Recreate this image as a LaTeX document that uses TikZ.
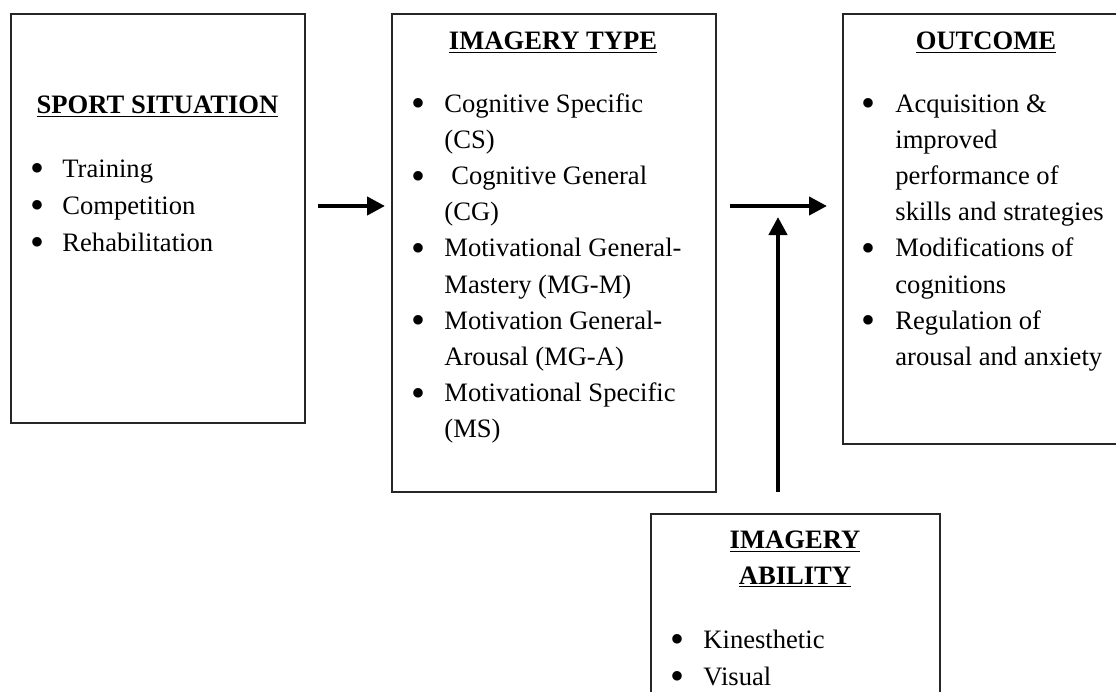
\documentclass[tikz,border=0pt]{standalone}
\usepackage{fontspec}
\setmainfont{Liberation Serif}
\usetikzlibrary{arrows.meta}
\tikzset{
  box/.style={draw=black!85, line width=0.8pt, inner sep=0pt, anchor=north west},
  txt/.style={anchor=base west, inner sep=0pt, font=\fontsize{13.3}{16}\selectfont},
  bul/.style={anchor=center, inner sep=0pt, yshift=2.1pt, font=\fontsize{13.3}{16}\selectfont},
  head/.style={anchor=base, inner sep=0pt, font=\fontsize{13.3}{16}\selectfont\bfseries},
  arr/.style={line width=2.1pt, -{Triangle[length=9pt,width=9pt]}}
}
\newcommand{\bigbul}{\scalebox{1.5}{•}}
\begin{document}
\begin{tikzpicture}[x=0.5pt,y=-0.5pt]
\useasboundingbox (0,0) rectangle (1116,692);
\clip (0,0) rectangle (1116,692);
\fill[white] (0,0) rectangle (1116,692);
% boxes
\node[box, minimum width=147pt, minimum height=204.5pt] (sport) at (10,13) {};
\node[box, minimum width=162pt, minimum height=239pt] (type) at (391,13) {};
\node[box, minimum width=144pt, minimum height=215pt] (outcome) at (842,13) {};
\node[box, minimum width=144.5pt, minimum height=103.5pt] (ability) at (650,513) {};
% sport situation
\node[head] (sh) at (157.5,113) {\underline{SPORT SITUATION}};
\node[bul] (sb1) at (37,177) {\bigbul};
\node[txt] (s1) at (62,177) {Training};
\node[bul] (sb2) at (37,214) {\bigbul};
\node[txt] (s2) at (62,214) {Competition};
\node[bul] (sb3) at (37,251) {\bigbul};
\node[txt] (s3) at (62,251) {Rehabilitation};
% imagery type
\node[head] (th) at (553,49) {\underline{IMAGERY TYPE}};
\node[bul] (tb1) at (418,112) {\bigbul};
\node[txt] (t1a) at (444,112) {Cognitive Specific};
\node[txt] (t1b) at (444,148.2) {(CS)};
\node[bul] (tb2) at (418,184.4) {\bigbul};
\node[txt] (t2a) at (451,184.4) {Cognitive General};
\node[txt] (t2b) at (444,220.6) {(CG)};
\node[bul] (tb3) at (418,256.8) {\bigbul};
\node[txt] (t3a) at (444,256.8) {Motivational General-};
\node[txt] (t3b) at (444,293) {Mastery (MG-M)};
\node[bul] (tb4) at (418,329.2) {\bigbul};
\node[txt] (t4a) at (444,329.2) {Motivation General-};
\node[txt] (t4b) at (444,365.4) {Arousal (MG-A)};
\node[bul] (tb5) at (418,401.6) {\bigbul};
\node[txt] (t5a) at (444,401.6) {Motivational Specific};
\node[txt] (t5b) at (444,437.8) {(MS)};
% outcome
\node[head] (oh) at (986,49) {\underline{OUTCOME}};
\node[bul] (ob1) at (868,112) {\bigbul};
\node[txt] (o1a) at (895,112) {Acquisition \&};
\node[txt] (o1b) at (895,148.2) {improved};
\node[txt] (o1c) at (895,184.4) {performance of};
\node[txt] (o1d) at (895,220.6) {skills and strategies};
\node[bul] (ob2) at (868,256.8) {\bigbul};
\node[txt] (o2a) at (895,256.8) {Modifications of};
\node[txt] (o2b) at (895,293) {cognitions};
\node[bul] (ob3) at (868,329.2) {\bigbul};
\node[txt] (o3a) at (895,329.2) {Regulation of};
\node[txt] (o3b) at (895,365.4) {arousal and anxiety};
% imagery ability
\node[head] (ah1) at (795,548) {\underline{IMAGERY}};
\node[head] (ah2) at (795,584) {\underline{ABILITY}};
\node[bul] (ab1) at (677,648) {\bigbul};
\node[txt] (a1) at (703,648) {Kinesthetic};
\node[bul] (ab2) at (677,685) {\bigbul};
\node[txt] (a2) at (703,685) {Visual};
% connectors
\coordinate (a1s) at (318,206);
\coordinate (a1e) at (385,206);
\coordinate (a2s) at (730,206);
\coordinate (a2e) at (827,206);
\coordinate (a3s) at (778,492);
\coordinate (a3e) at (778,217);
\draw[arr] (a1s) -- (a1e);
\draw[arr] (a2s) -- (a2e);
\draw[arr] (a3s) -- (a3e);
\end{tikzpicture}
\end{document}
